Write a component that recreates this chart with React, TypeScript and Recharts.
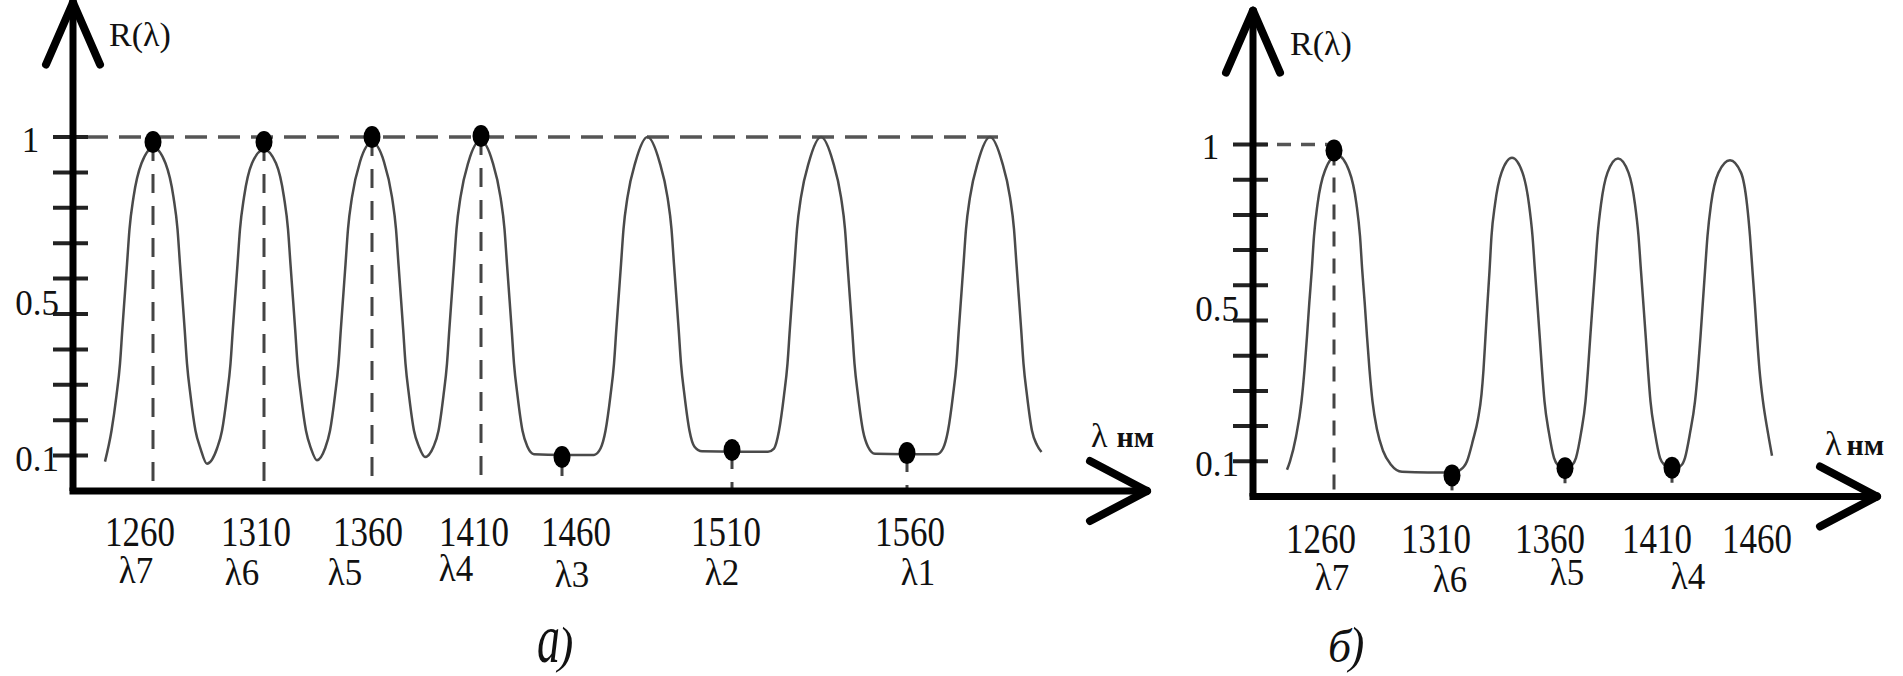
import React from 'react';
import { ComposedChart, Line, Scatter, XAxis, YAxis, ReferenceLine } from 'recharts';

const FONT = '"Liberation Serif", "Times New Roman", "DejaVu Serif", serif';
const INK = '#111111';

// ---------------- panel а ----------------
// horizontal position in schematic units (the drawing is not to scale), R value
const aCurveX = [
  32, 38.5, 43.5, 47, 49.3, 51.7, 54, 56.5, 60.5, 68.5, 80.5,
  92.5, 100.5, 104.5, 107, 109.3, 111.7, 114, 117.5, 122.5, 127.5,
  134,
  144, 149, 154, 157.5, 159.8, 162.2, 164.5, 167, 171, 179, 191,
  203, 211, 215, 217.5, 219.8, 222.2, 224.5, 228, 233, 238,
  244,
  252, 257, 262, 265.5, 267.8, 270.2, 272.5, 275, 279, 287, 299,
  311, 319, 323, 325.5, 327.8, 330.2, 332.5, 336, 341, 346,
  352,
  360.5, 365.5, 370.5, 374, 376.3, 378.7, 381, 383.5, 387.5, 395.5, 407.5,
  419.5, 427.5, 431.5, 434, 436.3, 438.7, 441, 444.5, 449.5, 454.5,
  461, 489, 521,
  527.5, 532.5, 537.5, 541, 543.3, 545.7, 548, 550.5, 554.5, 562.5, 574.5,
  586.5, 594.5, 598.5, 601, 603.3, 605.7, 608, 611.5, 616.5, 621.5,
  629, 662, 695,
  701, 706, 711, 714.5, 716.8, 719.2, 721.5, 724, 728, 736, 748,
  760, 768, 772, 774.5, 776.8, 779.2, 781.5, 785, 790, 795,
  802, 832, 864,
  870, 875, 880, 883.5, 885.8, 888.2, 890.5, 893, 897, 905, 917,
  929, 937, 941, 943.5, 945.8, 948.2, 950.5, 954, 959, 964, 968.5,
];
const aCurveR = [
  0.083, 0.17, 0.27, 0.36, 0.455, 0.55, 0.64, 0.74, 0.83, 0.926, 0.97,
  0.926, 0.83, 0.74, 0.64, 0.55, 0.455, 0.36, 0.27, 0.17, 0.12,
  0.077,
  0.12, 0.17, 0.27, 0.36, 0.455, 0.55, 0.64, 0.74, 0.83, 0.926, 0.965,
  0.926, 0.83, 0.74, 0.64, 0.55, 0.455, 0.36, 0.27, 0.17, 0.12,
  0.087,
  0.12, 0.17, 0.27, 0.36, 0.455, 0.55, 0.64, 0.74, 0.83, 0.93, 0.985,
  0.93, 0.83, 0.74, 0.64, 0.55, 0.455, 0.36, 0.27, 0.17, 0.125,
  0.096,
  0.125, 0.17, 0.27, 0.36, 0.455, 0.55, 0.64, 0.74, 0.83, 0.93, 0.99,
  0.93, 0.83, 0.74, 0.64, 0.55, 0.455, 0.36, 0.27, 0.17, 0.125,
  0.104, 0.102, 0.102,
  0.12, 0.17, 0.27, 0.36, 0.455, 0.55, 0.64, 0.74, 0.83, 0.93, 1.0,
  0.93, 0.83, 0.74, 0.64, 0.55, 0.455, 0.36, 0.27, 0.17, 0.125,
  0.112, 0.111, 0.111,
  0.12, 0.17, 0.27, 0.36, 0.455, 0.55, 0.64, 0.74, 0.83, 0.93, 1.0,
  0.93, 0.83, 0.74, 0.64, 0.55, 0.455, 0.36, 0.27, 0.17, 0.125,
  0.105, 0.104, 0.104,
  0.12, 0.17, 0.27, 0.36, 0.455, 0.55, 0.64, 0.74, 0.83, 0.93, 1.0,
  0.93, 0.83, 0.74, 0.64, 0.55, 0.455, 0.36, 0.27, 0.17, 0.13, 0.11,
];
const aDotX = [80, 191, 299, 408, 489, 659, 834];
const aDotR = [0.986, 0.986, 1.0, 1.003, 0.096, 0.116, 0.107];
const aTickPos = [67, 183, 295, 401, 503, 653, 837];
const aTickNm = ['1260', '1310', '1360', '1410', '1460', '1510', '1560'];
const aTickLambda = ['λ7', 'λ6', 'λ5', 'λ4', 'λ3', 'λ2', 'λ1'];
const aRefFrom = -20;
const aRefTo = 925;

// ---------------- panel б ----------------
const bCurveX = [
  34, 37, 43, 48.5, 51.5, 54, 56.3, 58.7, 61, 64.5, 72, 84,
  96, 103.5, 107, 109.3, 111.7, 114, 116.5, 119.5, 124, 130, 138, 149, 175, 199,
  207, 214, 220, 225, 228.5, 230.5, 232.5, 234.5, 236.5, 238.5, 242, 248.5, 259,
  269.5, 276, 279.5, 282, 284.3, 286.7, 289, 291.5, 296, 301, 306, 312,
  318, 323, 328, 332.5, 335, 337.3, 339.7, 342, 344.5, 348, 354.5, 365,
  375.5, 382, 385.5, 388, 390.3, 392.7, 395, 397.5, 402, 407, 412, 419,
  428, 432, 437, 442, 445, 447.5, 449.8, 452, 454.5, 458, 465.5, 477,
  488, 494, 497, 499.5, 501.8, 504, 506.5, 510, 515, 519,
];
const bCurveR = [
  0.076, 0.1, 0.17, 0.27, 0.36, 0.455, 0.55, 0.64, 0.74, 0.83, 0.926, 0.97,
  0.926, 0.83, 0.74, 0.64, 0.55, 0.455, 0.36, 0.27, 0.19, 0.13, 0.09, 0.07, 0.068, 0.068,
  0.075, 0.1, 0.16, 0.22, 0.29, 0.36, 0.455, 0.55, 0.64, 0.74, 0.83, 0.92, 0.962,
  0.92, 0.83, 0.74, 0.64, 0.55, 0.455, 0.36, 0.27, 0.18, 0.11, 0.085, 0.074,
  0.085, 0.11, 0.18, 0.27, 0.36, 0.455, 0.55, 0.64, 0.74, 0.83, 0.92, 0.96,
  0.92, 0.83, 0.74, 0.64, 0.55, 0.455, 0.36, 0.27, 0.18, 0.11, 0.088, 0.078,
  0.088, 0.11, 0.18, 0.27, 0.36, 0.455, 0.55, 0.64, 0.74, 0.83, 0.92, 0.955,
  0.92, 0.83, 0.74, 0.64, 0.55, 0.455, 0.36, 0.27, 0.18, 0.116,
];
const bDotX = [81, 199, 312, 419];
const bDotR = [0.983, 0.06, 0.08, 0.082];
const bTickPos = [68, 183, 297, 404, 504];
const bTickNm = ['1260', '1310', '1360', '1410', '1460'];
const bTickLambda = ['λ7', 'λ6', 'λ5', 'λ4', ''];
const bRefFrom = 0;
const bRefTo = 81;

// ---------------- shared ----------------
const yTicks = [0.1, 0.2, 0.3, 0.4, 0.5, 0.6, 0.7, 0.8, 0.9, 1];
const yTickLabels = ['0.1', '', '', '', '0.5', '', '', '', '', '1'];
const refLevel = 1;
const yTop = 1.38;

const zip = (xs: number[], rs: number[]) => xs.map((u, i) => ({ u, r: rs[i] }));

type PanelCfg = {
  left: number;
  width: number;
  yAxisW: number;
  top: number;
  xAxisH: number;
  right: number;
  xMax: number;
  curve: { u: number; r: number }[];
  dots: { u: number; r: number }[];
  tickPos: number[];
  tickNm: string[];
  tickLambda: string[];
  lamDx: number[];
  numBase: number;
  lamBase: number[];
  refFrom: number;
  refTo: number;
  hDash: string;
  vDash: string;
};

function Panel(c: PanelCfg) {
  const H = 676;
  const plotH = H - c.top - c.xAxisH;
  const rPerPx = yTop / plotH;

  const renderXTick = (p: any) => {
    const i = c.tickPos.indexOf(p.payload.value);
    if (i < 0) return <g />;
    const x = p.x;
    const y = p.y;
    return (
      <g>
        <text
          transform={`translate(${x},${y + c.numBase}) scale(1,1.22)`}
          textAnchor="middle"
          fontFamily={FONT}
          fontSize={35}
          fill={INK}
        >
          {c.tickNm[i]}
        </text>
        {c.tickLambda[i] ? (
          <text
            transform={`translate(${x + c.lamDx[i]},${y + c.lamBase[i]}) scale(1,1.1)`}
            textAnchor="middle"
            fontFamily={FONT}
            fontSize={35}
            fill={INK}
          >
            {c.tickLambda[i]}
          </text>
        ) : null}
      </g>
    );
  };

  const renderYTick = (p: any) => {
    const i = yTicks.indexOf(p.payload.value);
    const label = i >= 0 ? yTickLabels[i] : '';
    if (!label) return <g />;
    const x = p.x;
    const y = p.y;
    if (label === '1') {
      return (
        <text x={x - 42.5} y={y + 15} textAnchor="middle" fontFamily={FONT} fontSize={35} fill={INK}>
          {label}
        </text>
      );
    }
    return (
      <text x={x - 14} y={y + (label === '0.5' ? 1 : 15)} textAnchor="end" fontFamily={FONT} fontSize={35} fill={INK}>
        {label}
      </text>
    );
  };

  const armY = 62 * rPerPx;
  const harmY = 30 * rPerPx;

  return (
    <div style={{ position: 'absolute', left: c.left, top: 0, width: c.width, height: H }}>
      <ComposedChart
        width={c.width}
        height={H}
        margin={{ top: c.top, right: c.right, bottom: 0, left: 0 }}
      >
        <XAxis
          type="number"
          dataKey="u"
          domain={[0, c.xMax]}
          ticks={c.tickPos}
          interval={0}
          tick={renderXTick}
          tickLine={false}
          axisLine={false}
          tickSize={0}
          tickMargin={0}
          height={c.xAxisH}
          allowDataOverflow
        />
        <YAxis
          type="number"
          dataKey="r"
          domain={[0, yTop]}
          ticks={yTicks}
          interval={0}
          tick={renderYTick}
          tickLine={false}
          axisLine={false}
          tickSize={0}
          tickMargin={0}
          width={c.yAxisW}
          allowDataOverflow
        />

        <ReferenceLine
          segment={[{ x: c.refFrom, y: refLevel }, { x: c.refTo, y: refLevel }]}
          stroke="#555"
          strokeWidth={3.5}
          strokeDasharray={c.hDash}
          ifOverflow="visible"
        />
        {c.dots.map((d, i) => (
          <ReferenceLine
            key={'v' + i}
            segment={[{ x: d.u, y: d.r }, { x: d.u, y: 0 }]}
            stroke="#444"
            strokeWidth={3}
            strokeDasharray={c.vDash}
            ifOverflow="visible"
          />
        ))}
        {yTicks.map((t, i) => (
          <ReferenceLine
            key={'t' + i}
            segment={[{ x: -20, y: t }, { x: 15, y: t }]}
            stroke="#222"
            strokeWidth={4}
            ifOverflow="visible"
          />
        ))}

        <Line
          data={c.curve}
          dataKey="r"
          type="monotone"
          stroke="#4a4a4a"
          strokeWidth={2.5}
          dot={false}
          activeDot={false}
          isAnimationActive={false}
        />
        <Scatter
          data={c.dots}
          dataKey="r"
          isAnimationActive={false}
          shape={(p: any) => <ellipse cx={p.cx} cy={p.cy} rx={8.5} ry={11} fill="#000" />}
        />

        {/* axes with open arrow heads */}
        <ReferenceLine segment={[{ x: -3.5, y: 0 }, { x: c.xMax, y: 0 }]} stroke="#000" strokeWidth={7} ifOverflow="visible" />
        <ReferenceLine segment={[{ x: 0, y: 0 }, { x: 0, y: yTop }]} stroke="#000" strokeWidth={7} ifOverflow="visible" />
        <ReferenceLine segment={[{ x: -27, y: yTop - armY }, { x: 0, y: yTop }]} stroke="#000" strokeWidth={8} strokeLinecap="round" ifOverflow="visible" />
        <ReferenceLine segment={[{ x: 27, y: yTop - armY }, { x: 0, y: yTop }]} stroke="#000" strokeWidth={8} strokeLinecap="round" ifOverflow="visible" />
        <ReferenceLine segment={[{ x: c.xMax - 57, y: harmY }, { x: c.xMax, y: 0 }]} stroke="#000" strokeWidth={8} strokeLinecap="round" ifOverflow="visible" />
        <ReferenceLine segment={[{ x: c.xMax - 57, y: -harmY }, { x: c.xMax, y: 0 }]} stroke="#000" strokeWidth={8} strokeLinecap="round" ifOverflow="visible" />
      </ComposedChart>
    </div>
  );
}

export default function App() {
  return (
    <div style={{ position: 'absolute', left: 0, top: 0, width: 1903, height: 676, background: '#fff', overflow: 'hidden' }}>
      <Panel
        left={0}
        width={1165}
        yAxisW={73}
        top={2.5}
        xAxisH={185}
        right={18}
        xMax={1074}
        curve={zip(aCurveX, aCurveR)}
        dots={zip(aDotX, aDotR)}
        tickPos={aTickPos}
        tickNm={aTickNm}
        tickLambda={aTickLambda}
        lamDx={[-4, -14, -23, -18, -4, -4, 8]}
        numBase={55}
        lamBase={[92, 94, 94, 90, 96, 94, 94]}
        refFrom={aRefFrom}
        refTo={aRefTo}
        hDash="22 11"
        vDash="19 13"
      />
      <Panel
        left={1165}
        width={738}
        yAxisW={88}
        top={10.7}
        xAxisH={179.5}
        right={26}
        xMax={624}
        curve={zip(bCurveX, bCurveR)}
        dots={zip(bDotX, bDotR)}
        tickPos={bTickPos}
        tickNm={bTickNm}
        tickLambda={bTickLambda}
        lamDx={[11, 14, 17, 31, 0]}
        numBase={56.5}
        lamBase={[93.5, 95.5, 88, 92, 0]}
        refFrom={bRefFrom}
        refTo={bRefTo}
        hDash="14 10"
        vDash="15 12"
      />
      <svg width={1903} height={676} style={{ position: 'absolute', left: 0, top: 0, pointerEvents: 'none' }}>
        <g fontFamily={FONT} fill={INK}>
          <text x={109} y={46} fontSize={34}>R(λ)</text>
          <text x={1290} y={55} fontSize={34}>R(λ)</text>
          <text x={1091} y={447}>
            <tspan fontSize={34}>λ</tspan>
            <tspan fontSize={30} fontWeight="bold" dx={9}>нм</tspan>
          </text>
          <text x={1825} y={455}>
            <tspan fontSize={34}>λ</tspan>
            <tspan fontSize={30} fontWeight="bold" dx={5}>нм</tspan>
          </text>
          <text transform="translate(537,662) scale(1,1.5)" fontSize={46} fontStyle="italic">а</text>
          <text transform="translate(558,662) scale(1,1.1)" fontSize={46} fontStyle="italic">)</text>
          <text transform="translate(1328,662)" fontSize={46} fontStyle="italic">б</text>
          <text transform="translate(1349,662) scale(1,1.1)" fontSize={46} fontStyle="italic">)</text>
        </g>
      </svg>
    </div>
  );
}
